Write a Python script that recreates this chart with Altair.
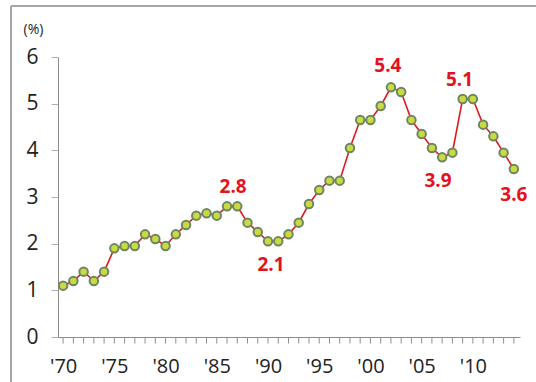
import altair as alt
import pandas as pd

years = list(range(1970, 2015))
values = [1.1, 1.2, 1.4, 1.2, 1.4, 1.9, 1.95, 1.95, 2.2, 2.1, 1.95,
          2.2, 2.4, 2.6, 2.65, 2.6, 2.8, 2.8, 2.45, 2.25, 2.05, 2.05,
          2.2, 2.45, 2.85, 3.15, 3.35, 3.35, 4.05, 4.65, 4.65, 4.95,
          5.35, 5.25, 4.65, 4.35, 4.05, 3.85, 3.95, 5.1, 5.1, 4.55,
          4.3, 3.95, 3.6]
label_years = [1970, 1975, 1980, 1985, 1990, 1995, 2000, 2005, 2010]

above_text = ["2.8", "5.4", "5.1"]
above_year = [1986.6, 2001.7, 2008.7]
above_value = [2.8, 5.4, 5.1]

below_text = ["2.1", "3.9", "3.6"]
below_year = [1990.3, 2006.6, 2014.0]
below_value = [2.1, 3.9, 3.6]

df = pd.DataFrame({"year": years, "value": values})
df_above = pd.DataFrame({"year": above_year, "value": above_value, "label": above_text})
df_below = pd.DataFrame({"year": below_year, "value": below_value, "label": below_text})

FONT = "Open Sans"
AXIS_COLOR = "#8c8c8c"

x_scale = alt.Scale(domain=[1969.5, 2014.6], nice=False, zero=False)
y_scale = alt.Scale(domain=[0, 6], nice=False)

x_label_axis = alt.Axis(
    values=label_years, orient="bottom",
    labelExpr="\"'\" + substring(toString(datum.value), 2)",
    title=None, grid=False, domainColor=AXIS_COLOR, ticks=False,
    labelPadding=19, labelFontSize=20, labelFont=FONT,
    labelColor="#222222", labelOverlap=False, labelFlush=False)

y_enc = alt.Y("value:Q", scale=y_scale, axis=alt.Axis(
    values=[0, 1, 2, 3, 4, 5, 6], title="(%)", titleAngle=0, titleX=-25,
    titleY=-28, titleAlign="center", titleBaseline="middle",
    titleFontSize=14, titleFontWeight="normal", titleFont=FONT,
    titleColor="#222222", grid=False, domainColor=AXIS_COLOR,
    tickColor="#b0b0b0", tickSize=7, labelPadding=13, labelFontSize=21,
    labelFont=FONT, labelColor="#222222"))

base = alt.Chart(df)
line = base.mark_line(color="#dd1a22", strokeWidth=1.6).encode(
    x=alt.X("year:Q", scale=x_scale, axis=x_label_axis), y=y_enc)
minor_ticks = base.mark_rule(color="#8f8f8f", strokeWidth=1).encode(
    x=alt.X("year:Q", scale=x_scale, axis=None),
    y=alt.datum(0), y2=alt.datum(-0.14))
points = base.mark_point(filled=True, shape="circle", size=72, fill="#c9dc3e",
                         stroke="#6f8466", strokeWidth=2, opacity=1).encode(
    x=alt.X("year:Q", scale=x_scale, axis=None), y="value:Q")

above = alt.Chart(df_above).mark_text(color="#e3121c", fontSize=19, fontWeight="bold",
                                      font=FONT, dy=-19, baseline="middle").encode(
    x=alt.X("year:Q", axis=None), y="value:Q", text="label:N")
below = alt.Chart(df_below).mark_text(color="#e3121c", fontSize=19, fontWeight="bold",
                                      font=FONT, dy=26, baseline="middle").encode(
    x=alt.X("year:Q", axis=None), y="value:Q", text="label:N")

frame_top = alt.Chart(df).mark_rule(color="#a6a6a6", strokeWidth=2).encode(
    x=alt.value(-47), x2=alt.value(500), y=alt.value(-51))
frame_left = alt.Chart(df).mark_rule(color="#a6a6a6", strokeWidth=2).encode(
    x=alt.value(-47), y=alt.value(-51), y2=alt.value(340))

chart = alt.layer(frame_top, frame_left, minor_ticks, line, points, above, below).resolve_axis(
    x="independent"
).properties(
    width=462, height=280,
    autosize=alt.AutoSizeParams(type="none"),
    padding={"left": 58, "top": 57, "right": 16, "bottom": 45},
    background="white",
).configure_view(stroke=None)

chart.save("out.html", embed_options={"renderer": "svg", "actions": False})
